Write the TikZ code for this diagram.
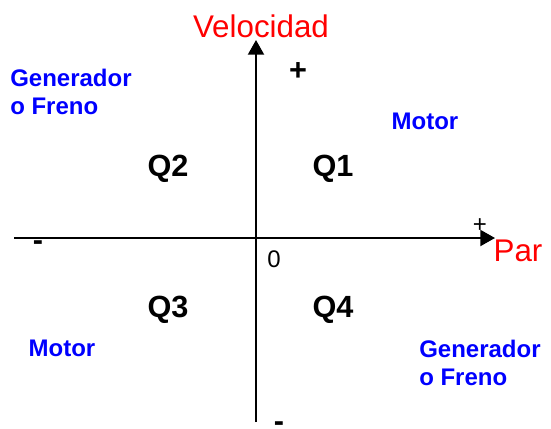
\documentclass[tikz,border=0pt]{standalone}
\usepackage{fontspec}
\setmainfont{Liberation Sans}
\usepackage{xcolor}
\usetikzlibrary{arrows.meta,positioning}

\begin{document}
\begin{tikzpicture}[
  x=0.75pt, y=-0.75pt,
  eje/.style={line width=1.5pt, -{Triangle[length=11pt, width=12pt]}},
  titulo/.style={text=red, inner sep=0pt, font=\fontsize{23.5}{27}\selectfont},
  cuad/.style={inner sep=0pt, font=\bfseries\fontsize{23}{27}\selectfont},
  modo/.style={text=blue, inner sep=0pt, align=left, font=\bfseries\fontsize{18}{21}\selectfont},
  signo/.style={inner sep=0pt, font=\bfseries\fontsize{23}{27}\selectfont}
]
\useasboundingbox (0,0) rectangle (551,429);
% ejes
\coordinate (abajo) at (256,422);
\coordinate (arriba) at (256,40);
\coordinate (izq) at (14,238);
\coordinate (der) at (495,238);
\draw[eje] (abajo) -- (arriba);
\draw[eje] (izq) -- (der);
% etiquetas de los ejes
\node[titulo] (vel) at (261,26) {Velocidad};
\node[titulo] (par) at (518,251) {Par};
\node[inner sep=0pt, font=\fontsize{18}{22}\selectfont] (cero) at (274,259) {0};
\node[signo] (masv) at (298,72) {+};
\node[inner sep=0pt, font=\fontsize{18}{22}\selectfont] (masp) at (480,226) {+};
\node[signo] (menosp) at (38,246) {-};
\node[signo] (menosv) at (279,427) {-};
% cuadrantes
\node[cuad] (q1) at (333,169) {Q1};
\node[cuad] (q2) at (168,169) {Q2};
\node[cuad] (q3) at (168,310) {Q3};
\node[cuad] (q4) at (333,310) {Q4};
% modos de funcionamiento
\node[modo, anchor=north west] (gen2) at (10,69) {Generador\\o Freno};
\node[modo] (mot1) at (425,121) {Motor};
\node[modo] (mot3) at (62,348) {Motor};
\node[modo, anchor=north west] (gen4) at (419,340) {Generador\\o Freno};
\end{tikzpicture}
\end{document}
